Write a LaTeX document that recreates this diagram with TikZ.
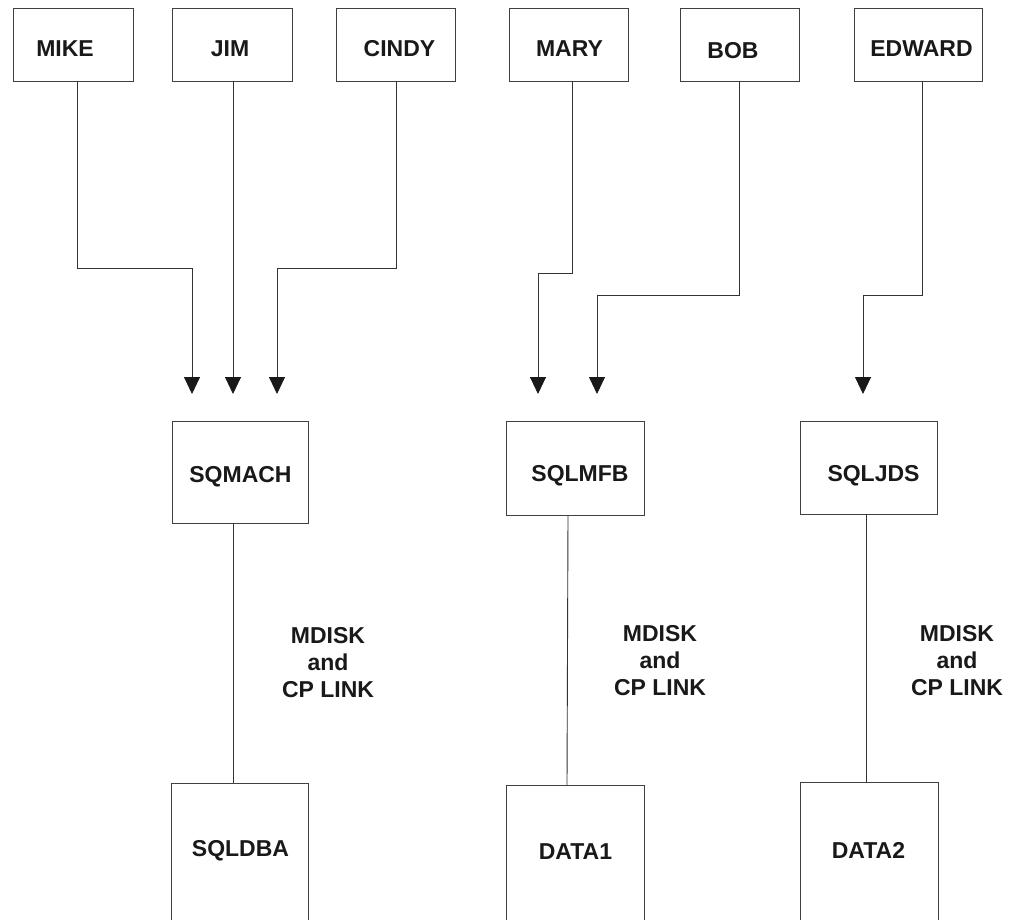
\documentclass[tikz,border=0pt]{standalone}
\usepackage{fontspec}
\setmainfont{Liberation Sans}
\usetikzlibrary{arrows.meta}
\begin{document}
\begin{tikzpicture}[x=1pt,y=-1pt,
  box/.style={draw=black!75,line width=0.9pt,inner sep=0pt,outer sep=0pt},
  txt/.style={font=\fontsize{23}{27}\selectfont\bfseries,text=black!90,inner sep=0pt},
  wire/.style={draw=black!80,line width=0.9pt},
  arr/.style={wire,-{Triangle[width=16pt,length=17pt,color=black!90,fill=black!90]}},
  lbl/.style={txt,align=center}]
\useasboundingbox (0,0) rectangle (1014,920);
\clip (0,0) rectangle (1014,920);
% top boxes
\node[box,minimum width=120pt,minimum height=73pt,label={[txt,xshift=-8pt,yshift=-4pt]center:MIKE}] (mike) at (73,44.5) {};
\node[box,minimum width=120pt,minimum height=73pt,label={[txt,xshift=-2pt,yshift=-4pt]center:JIM}] (jim) at (232,44.5) {};
\node[box,minimum width=119pt,minimum height=73pt,label={[txt,xshift=4pt,yshift=-4pt]center:CINDY}] (cindy) at (395.5,44.5) {};
\node[box,minimum width=119pt,minimum height=73pt,label={[txt,xshift=1pt,yshift=-4pt]center:MARY}] (mary) at (568.5,44.5) {};
\node[box,minimum width=119pt,minimum height=73pt,label={[txt,xshift=-6.5pt,yshift=-6.5pt]center:BOB}] (bob) at (739.5,44.5) {};
\node[box,minimum width=128pt,minimum height=73pt,label={[txt,xshift=3.5pt,yshift=-4pt]center:EDWARD}] (edward) at (918,44.5) {};
% middle boxes
\node[box,minimum width=136pt,minimum height=102pt,label={[txt,xshift=0.5pt,yshift=-5pt]center:SQMACH}] (sqmach) at (240,472) {};
\node[box,minimum width=138pt,minimum height=94pt,label={[txt,xshift=5pt,yshift=-8pt]center:SQLMFB}] (sqlmfb) at (575,468) {};
\node[box,minimum width=137pt,minimum height=93pt,label={[txt,xshift=5pt,yshift=-8.5pt]center:SQLJDS}] (sqljds) at (868.5,467.5) {};
% bottom boxes
\node[box,minimum width=137pt,minimum height=147pt,label={[txt,xshift=1pt,yshift=6pt]center:SQLDBA}] (sqldba) at (239.5,856.5) {};
\node[box,minimum width=138pt,minimum height=145pt,label={[txt,xshift=0.5pt,yshift=6pt]center:DATA1}] (data1) at (575,857.5) {};
\node[box,minimum width=138pt,minimum height=148pt,label={[txt,xshift=-0.5pt,yshift=6pt]center:DATA2}] (data2) at (869,856) {};
% arrow end points
\coordinate (a1) at (192,394);
\coordinate (a2) at (233,394);
\coordinate (a3) at (277,394);
\coordinate (a4) at (538,394);
\coordinate (a5) at (597,394);
\coordinate (a6) at (863,394);
% connectors
\draw[arr] ([xshift=4pt]mike.south) -- ++(0,187) -| (a1);
\draw[arr] ([xshift=1pt]jim.south) -- (a2);
\draw[arr] ([xshift=0.5pt]cindy.south) -- ++(0,187) -| (a3);
\draw[arr] ([xshift=3.5pt]mary.south) -- ++(0,192) -| (a4);
\draw[arr] ([xshift=-0.5pt]bob.south) -- ++(0,214) -| (a5);
\draw[arr] ([xshift=4pt]edward.south) -- ++(0,214) -| (a6);
\draw[wire] ([xshift=-7pt]sqmach.south) -- ([xshift=-6.5pt]sqldba.north);
\draw[wire] ([xshift=-7pt]sqlmfb.south) -- ([xshift=-8pt]data1.north);
\draw[wire] ([xshift=-2.5pt]sqljds.south) -- ([xshift=-3pt]data2.north);
% link labels
\node[lbl] (l1) at (328,663) {MDISK\\and\\CP LINK};
\node[lbl] (l2) at (660,661) {MDISK\\and\\CP LINK};
\node[lbl] (l3) at (957,661) {MDISK\\and\\CP LINK};
\end{tikzpicture}
\end{document}
